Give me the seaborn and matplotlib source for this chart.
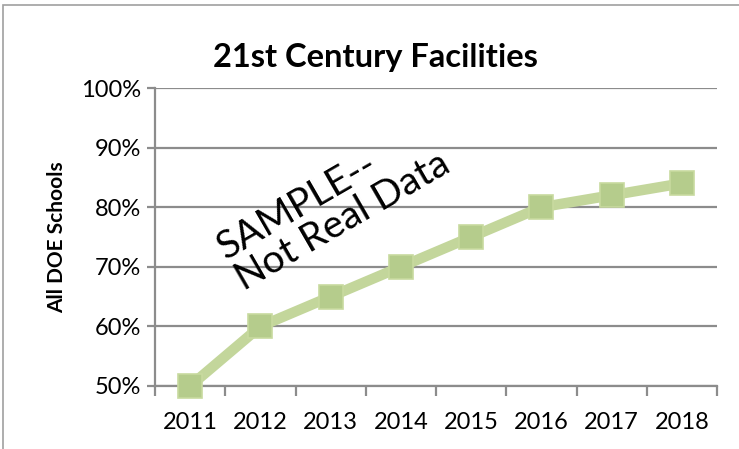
import matplotlib.pyplot as plt
import matplotlib.patches as mpatches
from matplotlib.ticker import FixedLocator, PercentFormatter
import pandas as pd
import seaborn as sns

years = ["2011", "2012", "2013", "2014", "2015", "2016", "2017", "2018"]
share = [50, 60, 65, 70, 75, 80, 82, 84]
y_ticks = [50, 60, 70, 80, 90, 100]

title = "21st Century Facilities"
y_label = "All DOE Schools"
watermark = "SAMPLE--\nNot Real Data"

df = pd.DataFrame({"Year": years, "Share": share})

sns.set_theme(style="white")
plt.rcParams["font.family"] = ["Lato", "DejaVu Sans"]
plt.rcParams["text.color"] = "black"

fig = plt.figure(figsize=(7.39, 4.49), dpi=100)
ax = fig.add_axes([155 / 739, 1 - 386 / 449, 562 / 739, 298 / 449])

grid_c = "#8c8c8c"
green = "#c3d69b"

sns.lineplot(data=df, x="Year", y="Share", ax=ax, color=green, linewidth=7.5,
             marker="s", markersize=17, markerfacecolor="#b5cc8c",
             markeredgecolor="#c8da9f", markeredgewidth=1.2, zorder=3, clip_on=False)

ax.set_xlim(-0.5, len(years) - 0.5)
ax.set_ylim(50, 100)
ax.set_yticks(y_ticks)
ax.yaxis.set_major_formatter(PercentFormatter(decimals=0))
ax.grid(axis="y", color=grid_c, linewidth=1.6)
ax.set_axisbelow(True)

for side in ["top", "right"]:
    ax.spines[side].set_visible(False)
for side in ["left", "bottom"]:
    ax.spines[side].set_color(grid_c)
    ax.spines[side].set_linewidth(1.6)

ax.xaxis.set_minor_locator(FixedLocator([i - 0.5 for i in range(len(years) + 1)]))
ax.tick_params(axis="x", which="major", length=0, pad=19, labelsize=17, labelcolor="black")
ax.tick_params(axis="x", which="minor", bottom=True, length=7, width=1.6, color=grid_c)
ax.tick_params(axis="y", which="major", left=True, length=6, width=1.6, color=grid_c,
               labelsize=17, pad=4, labelcolor="black")

ax.set_xlabel("")
ax.set_ylabel(y_label, fontsize=15, fontweight="bold", labelpad=10, color="black")

fig.text(375 / 739, 1 - 58 / 449, title, ha="center", va="center",
         fontsize=23.5, fontweight="bold", color="black")

ax.text(0.318, 0.605, watermark, transform=ax.transAxes, ha="center", va="center",
        multialignment="left", rotation=30, fontsize=28, linespacing=1.0,
        zorder=4, color="black")

fig.patches.append(mpatches.Rectangle((3 / 739, -0.05), 1.1, 1 - 5 / 449 + 0.05,
                                      transform=fig.transFigure, fill=False,
                                      edgecolor="#a0a0a0", linewidth=1.2))

fig.savefig("out.png", dpi=100)
